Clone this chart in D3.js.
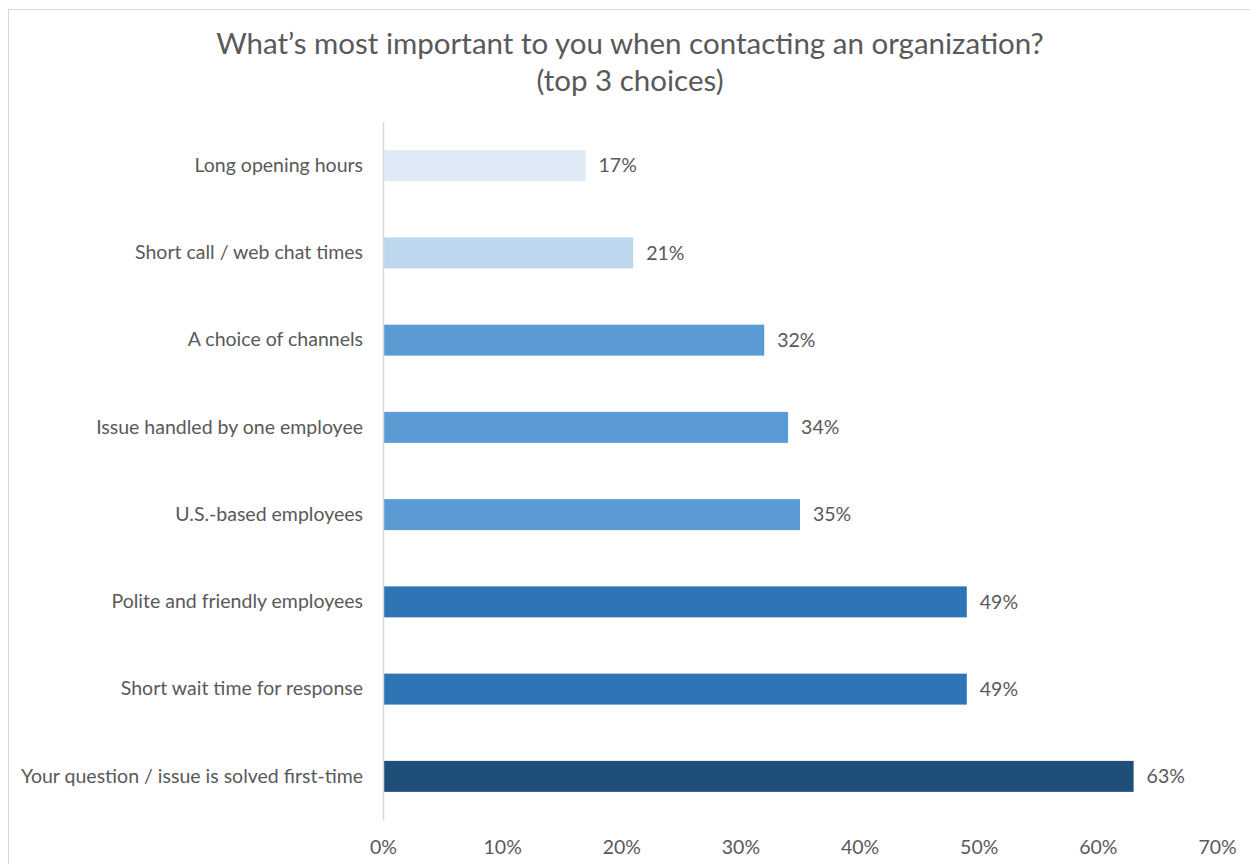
<!DOCTYPE html>
<html>
<head>
<meta charset="utf-8">
<script src="https://cdn.jsdelivr.net/npm/d3@7"></script>
<style>
  body { margin: 0; background: #fff; }
  text { font-family: Lato, "Open Sans", sans-serif; fill: #595959; }
</style>
</head>
<body>
<div id="board"></div>
<script>
// data, top to bottom as drawn
var categories = ['Long opening hours', 'Short call / web chat times', 'A choice of channels',
  'Issue handled by one employee', 'U.S.-based employees', 'Polite and friendly employees',
  'Short wait time for response', 'Your question / issue is solved first-time'];
var values = [17, 21, 32, 34, 35, 49, 49, 63];
var barColors = ['#DEEBF7', '#BDD7EE', '#5B9BD5', '#5B9BD5', '#5B9BD5', '#2E75B6', '#2E75B6', '#1F4E79'];
var tickValues = [0, 10, 20, 30, 40, 50, 60, 70];
var titleLines = ['What\u2019s most important to you when contacting an organization?', '(top 3 choices)'];

var W = 1250, H = 864;
var fs = '19.5px';
var svg = d3.select('#board').append('svg')
  .attr('width', W)
  .attr('height', H);

// chart frame
svg.append('rect')
  .attr('x', 8.5).attr('y', 9.5)
  .attr('width', W + 20).attr('height', H + 20)
  .style('fill', 'none')
  .style('stroke', '#D9D9D9');

var x = d3.scaleLinear().domain([0, 70]).range([383, 1217]);
var y = d3.scaleBand().domain(categories).range([122, 820])
  .paddingInner(0.645).paddingOuter(0.3225);

// title
svg.selectAll('.title')
  .data(titleLines)
  .enter().append('text')
  .attr('class', 'title')
  .attr('x', 630)
  .attr('y', function(d, i) { return 54 + i * 37; })
  .attr('text-anchor', 'middle')
  .style('font-size', '29.5px')
  .text(function(d) { return d; });

// bars
svg.selectAll('.bar')
  .data(values)
  .enter().append('rect')
  .attr('class', 'bar')
  .attr('x', x(0))
  .attr('y', function(d, i) { return y(categories[i]); })
  .attr('width', function(d) { return x(d) - x(0); })
  .attr('height', y.bandwidth())
  .style('fill', function(d, i) { return barColors[i]; });

// value labels
svg.selectAll('.val')
  .data(values)
  .enter().append('text')
  .attr('class', 'val')
  .attr('x', function(d) { return x(d) + 13; })
  .attr('y', function(d, i) { return y(categories[i]) + y.bandwidth() / 2; })
  .attr('dy', '0.35em')
  .style('font-size', fs)
  .text(function(d) { return d + '%'; });

// category axis (left)
var yAxis = svg.append('g')
  .attr('transform', 'translate(' + x(0) + ',0)')
  .call(d3.axisLeft(y).tickSize(0).tickPadding(20));
yAxis.select('.domain').style('stroke', '#D9D9D9').style('stroke-width', 1.5);
yAxis.selectAll('text').style('font-size', fs).style('fill', '#595959')
  .style('font-family', 'Lato, "Open Sans", sans-serif');

// value axis (bottom, no line)
var xAxis = svg.append('g')
  .attr('transform', 'translate(0,' + 820 + ')')
  .call(d3.axisBottom(x).tickValues(tickValues).tickSize(0).tickPadding(20)
    .tickFormat(function(d) { return d + '%'; }));
xAxis.select('.domain').remove();
xAxis.selectAll('text').style('font-size', fs).style('fill', '#595959')
  .style('font-family', 'Lato, "Open Sans", sans-serif');
</script>
</body>
</html>
